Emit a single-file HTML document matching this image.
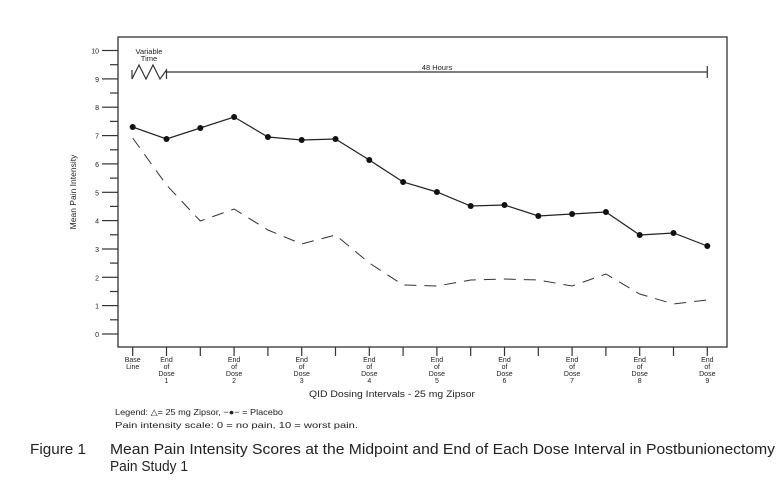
<!DOCTYPE html>
<html><head><style>body{margin:0;background:#fff}svg{display:block}text{font-family:"Liberation Sans",sans-serif;fill:#222}</style></head>
<body>
<svg width="780" height="483" viewBox="0 0 780 483">
<rect x="118" y="37" width="609" height="310" fill="none" stroke="#333" stroke-width="1.3"/>
<g stroke="#333" stroke-width="1.2">
<line x1="102" y1="334" x2="118" y2="334"/><line x1="102" y1="305.6" x2="118" y2="305.6"/><line x1="102" y1="277.3" x2="118" y2="277.3"/><line x1="102" y1="249" x2="118" y2="249"/><line x1="102" y1="220.6" x2="118" y2="220.6"/><line x1="102" y1="192.3" x2="118" y2="192.3"/><line x1="102" y1="163.9" x2="118" y2="163.9"/><line x1="102" y1="135.6" x2="118" y2="135.6"/><line x1="102" y1="107.2" x2="118" y2="107.2"/><line x1="102" y1="78.9" x2="118" y2="78.9"/><line x1="102" y1="50.5" x2="118" y2="50.5"/>
<line x1="110" y1="319.8" x2="118" y2="319.8"/><line x1="110" y1="291.5" x2="118" y2="291.5"/><line x1="110" y1="263.1" x2="118" y2="263.1"/><line x1="110" y1="234.8" x2="118" y2="234.8"/><line x1="110" y1="206.4" x2="118" y2="206.4"/><line x1="110" y1="178.1" x2="118" y2="178.1"/><line x1="110" y1="149.8" x2="118" y2="149.8"/><line x1="110" y1="121.4" x2="118" y2="121.4"/><line x1="110" y1="93" x2="118" y2="93"/><line x1="110" y1="64.7" x2="118" y2="64.7"/>
</g>
<g font-size="7" text-anchor="end"><text x="99" y="337">0</text><text x="99" y="308.6">1</text><text x="99" y="280.3">2</text><text x="99" y="252">3</text><text x="99" y="223.6">4</text><text x="99" y="195.3">5</text><text x="99" y="166.9">6</text><text x="99" y="138.6">7</text><text x="99" y="110.2">8</text><text x="99" y="81.9">9</text><text x="99" y="53.5">10</text></g>
<text transform="translate(76,192) rotate(-90)" font-size="8.5" text-anchor="middle">Mean Pain Intensity</text>
<g stroke="#333" stroke-width="1.2">
<line x1="132.7" y1="347" x2="132.7" y2="356"/><line x1="166.5" y1="347" x2="166.5" y2="356"/><line x1="200.3" y1="347" x2="200.3" y2="356"/><line x1="234.1" y1="347" x2="234.1" y2="356"/><line x1="267.9" y1="347" x2="267.9" y2="356"/><line x1="301.7" y1="347" x2="301.7" y2="356"/><line x1="335.5" y1="347" x2="335.5" y2="356"/><line x1="369.3" y1="347" x2="369.3" y2="356"/><line x1="403.1" y1="347" x2="403.1" y2="356"/><line x1="436.9" y1="347" x2="436.9" y2="356"/><line x1="470.7" y1="347" x2="470.7" y2="356"/><line x1="504.5" y1="347" x2="504.5" y2="356"/><line x1="538.3" y1="347" x2="538.3" y2="356"/><line x1="572.1" y1="347" x2="572.1" y2="356"/><line x1="605.9" y1="347" x2="605.9" y2="356"/><line x1="639.7" y1="347" x2="639.7" y2="356"/><line x1="673.5" y1="347" x2="673.5" y2="356"/><line x1="707.3" y1="347" x2="707.3" y2="356"/>
</g>
<g font-size="7" text-anchor="middle">
<text x="132.7" y="362">Base</text><text x="132.7" y="369">Line</text>
<text x="166.5" y="362">End</text><text x="166.5" y="369">of</text><text x="166.5" y="376">Dose</text><text x="166.5" y="383">1</text>
<text x="234.1" y="362">End</text><text x="234.1" y="369">of</text><text x="234.1" y="376">Dose</text><text x="234.1" y="383">2</text>
<text x="301.7" y="362">End</text><text x="301.7" y="369">of</text><text x="301.7" y="376">Dose</text><text x="301.7" y="383">3</text>
<text x="369.3" y="362">End</text><text x="369.3" y="369">of</text><text x="369.3" y="376">Dose</text><text x="369.3" y="383">4</text>
<text x="436.9" y="362">End</text><text x="436.9" y="369">of</text><text x="436.9" y="376">Dose</text><text x="436.9" y="383">5</text>
<text x="504.5" y="362">End</text><text x="504.5" y="369">of</text><text x="504.5" y="376">Dose</text><text x="504.5" y="383">6</text>
<text x="572.1" y="362">End</text><text x="572.1" y="369">of</text><text x="572.1" y="376">Dose</text><text x="572.1" y="383">7</text>
<text x="639.7" y="362">End</text><text x="639.7" y="369">of</text><text x="639.7" y="376">Dose</text><text x="639.7" y="383">8</text>
<text x="707.3" y="362">End</text><text x="707.3" y="369">of</text><text x="707.3" y="376">Dose</text><text x="707.3" y="383">9</text>
</g>
<text x="309" y="397" font-size="9" textLength="166" lengthAdjust="spacingAndGlyphs">QID Dosing Intervals - 25 mg Zipsor</text>
<text x="115" y="415" font-size="8.5" textLength="168" lengthAdjust="spacingAndGlyphs">Legend: △= 25 mg Zipsor,  −●− = Placebo</text>
<text x="115" y="428" font-size="8.5" textLength="243" lengthAdjust="spacingAndGlyphs">Pain intensity scale: 0 = no pain,  10 = worst pain.</text>
<g stroke="#333" stroke-width="1.2" fill="none">
<polyline points="132,70 132,79 132,79 139,65 146,79 153,65 160,79 166.5,70 166.5,79"/>
<line x1="166.5" y1="72" x2="707.3" y2="72"/><line x1="707.3" y1="66" x2="707.3" y2="78"/>
</g>
<text x="149" y="54" font-size="7.5" text-anchor="middle">Variable</text><text x="149" y="61" font-size="7.5" text-anchor="middle">Time</text>
<text x="437" y="70" font-size="7.5" text-anchor="middle">48 Hours</text>
<polyline fill="none" stroke="#333" stroke-width="1" stroke-dasharray="12,8" points="132.7,138 166.5,185 200.3,221 234.1,209 267.9,230 301.7,244 335.5,235 369.3,263 403.1,285 436.9,286 470.7,280 504.5,279 538.3,280 572.1,286 605.9,274 639.7,294 673.5,304 707.3,300"/>
<polyline fill="none" stroke="#222" stroke-width="1.2" points="132.7,127 166.5,139 200.3,128 234.1,117 267.9,137 301.7,140 335.5,139 369.3,160 403.1,182 436.9,192 470.7,206 504.5,205 538.3,216 572.1,214 605.9,212 639.7,235 673.5,233 707.3,246"/>
<g fill="#111">
<circle cx="132.7" cy="127" r="3"/><circle cx="166.5" cy="139" r="3"/><circle cx="200.3" cy="128" r="3"/><circle cx="234.1" cy="117" r="3"/><circle cx="267.9" cy="137" r="3"/><circle cx="301.7" cy="140" r="3"/><circle cx="335.5" cy="139" r="3"/><circle cx="369.3" cy="160" r="3"/><circle cx="403.1" cy="182" r="3"/><circle cx="436.9" cy="192" r="3"/><circle cx="470.7" cy="206" r="3"/><circle cx="504.5" cy="205" r="3"/><circle cx="538.3" cy="216" r="3"/><circle cx="572.1" cy="214" r="3"/><circle cx="605.9" cy="212" r="3"/><circle cx="639.7" cy="235" r="3"/><circle cx="673.5" cy="233" r="3"/><circle cx="707.3" cy="246" r="3"/>
</g>
<text x="30" y="454" font-size="15" textLength="56" lengthAdjust="spacingAndGlyphs">Figure 1</text>
<text x="110" y="454" font-size="15" textLength="665" lengthAdjust="spacingAndGlyphs">Mean Pain Intensity Scores at the Midpoint and End of Each Dose Interval in Postbunionectomy</text>
<text x="110" y="471" font-size="15" textLength="78" lengthAdjust="spacingAndGlyphs">Pain Study 1</text>
</svg>
</body></html>
